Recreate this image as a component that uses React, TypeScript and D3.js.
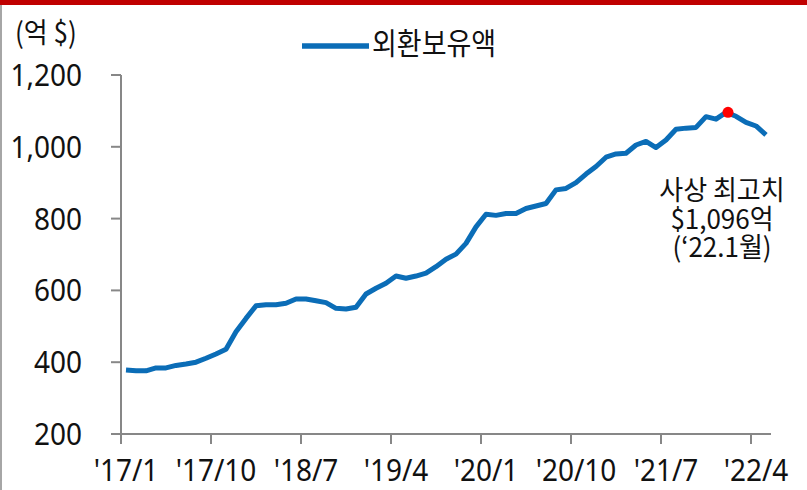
import { useEffect, useRef } from 'react';
import * as d3 from 'd3';

const months = [
  "'17/1", "'17/2", "'17/3", "'17/4", "'17/5", "'17/6", "'17/7", "'17/8", "'17/9", "'17/10", "'17/11", "'17/12",
  "'18/1", "'18/2", "'18/3", "'18/4", "'18/5", "'18/6", "'18/7", "'18/8", "'18/9", "'18/10", "'18/11", "'18/12",
  "'19/1", "'19/2", "'19/3", "'19/4", "'19/5", "'19/6", "'19/7", "'19/8", "'19/9", "'19/10", "'19/11", "'19/12",
  "'20/1", "'20/2", "'20/3", "'20/4", "'20/5", "'20/6", "'20/7", "'20/8", "'20/9", "'20/10", "'20/11", "'20/12",
  "'21/1", "'21/2", "'21/3", "'21/4", "'21/5", "'21/6", "'21/7", "'21/8", "'21/9", "'21/10", "'21/11", "'21/12",
  "'22/1", "'22/2", "'22/3", "'22/4", "'22/5",
];

// 외환보유액 (억 $)
const reserves = [
  378, 376, 376, 384, 384, 391, 395, 400, 411, 423, 436, 485,
  522, 557, 560, 560, 564, 576, 576, 571, 566, 550, 548, 553,
  590, 606, 620, 640, 634, 640, 648, 666, 687, 701, 731, 777,
  812, 809, 814, 814, 828, 835, 842, 880, 884, 900, 924, 945,
  971, 980, 982, 1005, 1015, 998, 1019, 1049, 1052, 1054, 1084, 1077,
  1096, 1085, 1068, 1058, 1033,
];

const xTickLabels = ["'17/1", "'17/10", "'18/7", "'19/4", "'20/1", "'20/10", "'21/7", "'22/4"];
const yTicks = [200, 400, 600, 800, 1000, 1200];
const peakMonth = "'22/1";
const annotation = ['사상 최고치', '$1,096억', '(‘22.1월)'];

export default function App() {
  const svgRef = useRef<SVGSVGElement>(null);

  useEffect(() => {
    const svg = d3.select(svgRef.current);
    const width = 807;
    const height = 490;
    svg.selectAll('*').remove();

    const axisColor = '#878787';
    const blue = '#0B6DB7';
    const numFont = "'Noto Sans', sans-serif";
    const krFont = "'Noto Sans CJK KR', 'Noto Sans', sans-serif";

    const x = d3.scaleBand().domain(months).range([121, 771]);
    const y = d3.scaleLinear().domain([200, 1200]).range([434, 75]);

    // text a bit taller than wide, like the original
    const label = (tx: number, ty: number, s: string, size: number, font: string, anchor = 'start', sy = 1.1) =>
      svg.append('text').attr('transform', `translate(${tx},${ty}) scale(1,${sy})`)
        .attr('text-anchor', anchor).attr('font-family', font).attr('font-size', size)
        .attr('fill', '#111').text(s);

    // frame
    svg.append('rect').attr('x', 0).attr('y', 0).attr('width', width).attr('height', 5).attr('fill', '#C00000');
    svg.append('line').attr('x1', 1).attr('x2', 1).attr('y1', 5).attr('y2', height).attr('stroke', '#A6A6A6').attr('stroke-width', 2);

    // y axis
    const gy = svg.append('g');
    gy.append('line').attr('x1', 121).attr('x2', 121).attr('y1', y(1200)).attr('y2', y(200) + 10)
      .attr('stroke', axisColor).attr('stroke-width', 2);
    yTicks.forEach((t) => {
      gy.append('line').attr('x1', 111).attr('x2', 121).attr('y1', y(t)).attr('y2', y(t))
        .attr('stroke', axisColor).attr('stroke-width', 2);
      label(82, y(t) + 11, d3.format(',')(t), 28, numFont, 'end');
    });

    // x axis
    const gx = svg.append('g');
    gx.append('line').attr('x1', 111).attr('x2', 771).attr('y1', y(200)).attr('y2', y(200))
      .attr('stroke', axisColor).attr('stroke-width', 2);
    xTickLabels.forEach((m) => {
      const tx = x(m)!;
      gx.append('line').attr('x1', tx).attr('x2', tx).attr('y1', y(200)).attr('y2', y(200) + 10)
        .attr('stroke', axisColor).attr('stroke-width', 2);
      label(tx + x.bandwidth() / 2, 481, m, 28, numFont, 'middle');
    });

    // line
    const line = d3.line<number>()
      .x((d, i) => x(months[i])! + x.bandwidth() / 2)
      .y((d) => y(d));
    svg.append('path').datum(reserves).attr('d', line).attr('fill', 'none')
      .attr('stroke', blue).attr('stroke-width', 5).attr('stroke-linejoin', 'round');

    // peak marker
    const pi = months.indexOf(peakMonth);
    svg.append('circle').attr('cx', x(peakMonth)! + x.bandwidth() / 2 + 2).attr('cy', y(reserves[pi]))
      .attr('r', 5.5).attr('fill', '#FF0000');

    // unit label
    label(15, 43, '(억 $)', 26, krFont);

    // legend
    svg.append('line').attr('x1', 302).attr('x2', 369).attr('y1', 46).attr('y2', 46)
      .attr('stroke', blue).attr('stroke-width', 5.5);
    label(372, 54, '외환보유액', 27, krFont);

    // annotation
    annotation.forEach((s, i) => label(722, 200 + i * 28.5, s, 26, krFont, 'middle', 1.05));
  }, []);

  return (
    <svg ref={svgRef} width="807" height="490"
      style={{ position: 'absolute', left: 0, top: 0, background: '#fff' }} />
  );
}
